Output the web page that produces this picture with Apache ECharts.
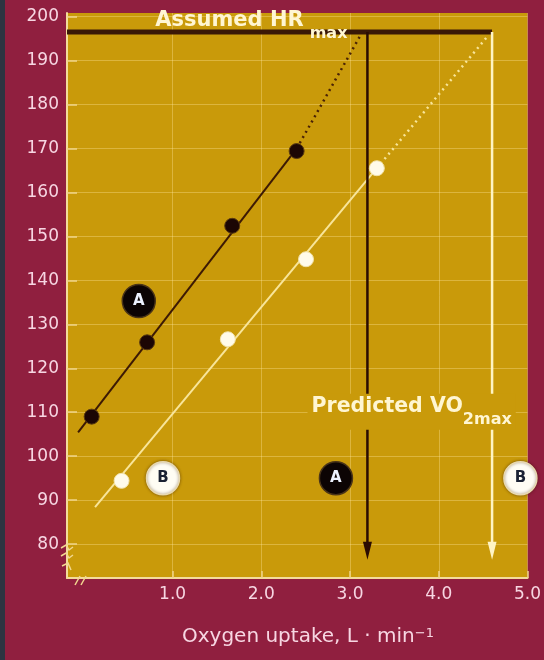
<!DOCTYPE html>
<html><head><meta charset="utf-8">
<script src="https://cdn.jsdelivr.net/npm/echarts@6/dist/echarts.min.js"></script>
<style>html,body{margin:0;padding:0;background:#901f3f;} #c{width:544px;height:660px;}</style>
</head><body><div id="c"></div>
<script>
// ---- data ----
const yTicks = [80,90,100,110,120,130,140,150,160,170,180,190,200];
const xTicks = [1,2,3,4,5];
const xRange = [-0.19, 5.0];
const yRange = [72.3, 200.8];
const pointsA = [[0.088,109.0],[0.713,125.9],[1.672,152.4],[2.398,169.4]];
const pointsB = [[0.425,94.4],[1.623,126.6],[2.504,144.8],[3.302,165.5]];
const fitASolid = [[-0.065,105.4],[2.40,170.0]];
const fitADotted = [[2.40,170.0],[3.125,196.0]];
const fitBSolid = [[0.126,88.4],[3.302,165.5]];
const fitBDotted = [[3.302,165.5],[4.563,195.8]];
const hrMax = 196.5;
const hrMaxSpan = [-0.19, 4.60];
const predictedA = 3.196;
const predictedB = 4.601;
const arrowEnd = 78.5;
const badgesA = [[0.619,135.3],[2.841,95.0]];
const badgesB = [[0.892,95.0],[4.92,95.0]];
const labelHR = [0.799,197.9];
const labelVO = [2.515,110.1];

const FONT = 'DejaVu Sans';
const GOLD = '#c99a0a';
const CREAM = '#fff6d2';
const PINK = '#f7d6e2';

const chart = echarts.init(document.getElementById('c'), null, {renderer:'canvas'});

function arrowSeries(x, color){
  return {
    type:'line', z:4, silent:true,
    lineStyle:{color:color, width:2.5},
    itemStyle:{color:color, opacity:1},
    data:[
      {value:[x,hrMax], symbol:'none'},
      {value:[x,arrowEnd], symbol:'triangle', symbolSize:[9,18], symbolRotate:180}
    ]
  };
}

const option = {
  backgroundColor:'#901f3f',
  animation:false,
  title:{
    text:'Oxygen uptake, L · min{s|−1}',
    left:177, top:622,
    textStyle:{
      fontFamily:FONT, fontSize:20, fontWeight:'normal', color:PINK,
      rich:{ s:{fontFamily:FONT, fontSize:13, color:PINK, lineHeight:10, verticalAlign:'top'} }
    }
  },
  grid:{left:67, right:15, top:13, bottom:82, show:true, backgroundColor:GOLD, borderWidth:0},
  xAxis:{
    type:'value', min:xRange[0], max:xRange[1],
    axisLine:{show:true, onZero:false, lineStyle:{color:'#f3dc9a', width:2}},
    axisTick:{show:true, inside:true, length:7, customValues:xTicks, lineStyle:{color:'#f0d58a', width:1.5}},
    axisLabel:{customValues:xTicks, formatter:v=>v.toFixed(1), fontFamily:FONT, fontSize:17, color:PINK, margin:8},
    splitLine:{show:true, lineStyle:{color:'rgba(255,232,160,0.35)', width:1}}
  },
  yAxis:{
    type:'value', min:yRange[0], max:yRange[1],
    axisLine:{show:true, onZero:false, lineStyle:{color:'#f3dc9a', width:2}},
    axisTick:{show:true, inside:true, length:10, customValues:yTicks, lineStyle:{color:'#f0d58a', width:1.5}},
    axisLabel:{customValues:yTicks, fontFamily:FONT, fontSize:17, color:PINK, margin:8},
    splitLine:{show:true, lineStyle:{color:'rgba(255,232,160,0.35)', width:1}}
  },
  series:[
    {type:'line', z:3, silent:true, symbol:'none', data:fitASolid, lineStyle:{color:'#3d1a04', width:2}},
    {type:'line', z:3, silent:true, symbol:'none', data:fitADotted, lineStyle:{color:'#4a2206', width:2.5, type:[2,4]}},
    {type:'line', z:3, silent:true, symbol:'none', data:fitBSolid, lineStyle:{color:'#f8e59a', width:2}},
    {type:'line', z:3, silent:true, symbol:'none', data:fitBDotted, lineStyle:{color:'#f8e59a', width:2.5, type:[2,4]}},
    {type:'line', z:4, silent:true, symbol:'none', data:[[hrMaxSpan[0],hrMax],[hrMaxSpan[1],hrMax]], lineStyle:{color:'#3a1806', width:5}},
    arrowSeries(predictedA, '#2a0c02'),
    arrowSeries(predictedB, '#fff4c4'),
    {type:'scatter', z:6, silent:true, symbolSize:15, data:pointsA,
      itemStyle:{color:'#1c0604', borderColor:'#5a3a10', borderWidth:1, opacity:1}},
    {type:'scatter', z:6, silent:true, symbolSize:15, data:pointsB,
      itemStyle:{color:'#fffbea', borderColor:'#f2e2a8', borderWidth:1, opacity:1}},
    {type:'scatter', z:7, silent:true, symbolSize:33, data:badgesA,
      itemStyle:{color:'#0c0404', borderColor:'#4a3418', borderWidth:1.5, opacity:1},
      label:{show:true, position:'inside', formatter:'A', fontFamily:FONT, fontWeight:'bold', fontSize:15, color:'#eef2ff'}},
    {type:'scatter', z:7, silent:true, symbolSize:33, data:badgesB,
      itemStyle:{color:'#fffdf4', borderColor:'#e8d9b0', borderWidth:1.5, opacity:1, shadowBlur:3, shadowColor:'rgba(60,30,0,0.5)'},
      label:{show:true, position:'inside', formatter:'B', fontFamily:FONT, fontWeight:'bold', fontSize:15, color:'#1b2233'}},
    {type:'scatter', z:10, silent:true, symbolSize:1, itemStyle:{color:'rgba(0,0,0,0)', opacity:1},
      data:[labelHR],
      label:{show:true, position:'right', distance:0,
        formatter:'{a|Assumed HR}{s|max}',
        rich:{
          a:{fontFamily:FONT, fontWeight:'bold', fontSize:21, color:CREAM, lineHeight:26, verticalAlign:'top'},
          s:{fontFamily:FONT, fontWeight:'bold', fontSize:16, color:CREAM, padding:[16,0,0,6], verticalAlign:'top'}
        }}},
    {type:'scatter', z:10, silent:true, symbolSize:1, itemStyle:{color:'rgba(0,0,0,0)', opacity:1},
      data:[labelVO],
      label:{show:true, position:'right', distance:0, backgroundColor:GOLD, padding:[2,4,2,4],
        formatter:'{a|Predicted VO}{s|2max}',
        rich:{
          a:{fontFamily:FONT, fontWeight:'bold', fontSize:20.5, color:CREAM, lineHeight:26, verticalAlign:'top'},
          s:{fontFamily:FONT, fontWeight:'bold', fontSize:16, color:CREAM, padding:[16,0,0,0], verticalAlign:'top'}
        }}}
  ]
};
chart.setOption(option);

// decorations: left dark strip and axis-break marks
const corner = chart.convertToPixel({gridIndex:0}, [xRange[0], yRange[0]]);
const cx = corner[0], cy = corner[1];
const breakStyle = {stroke:'#f2d890', lineWidth:1.5};
chart.setOption({
  graphic:[
    {type:'rect', shape:{x:0,y:0,width:5,height:660}, style:{fill:'#2d3441'}, z:100},
    {type:'polyline', shape:{points:[[cx-6,cy-30],[cx-1,cy-33],[cx+2,cy-28],[cx+6,cy-31]]}, style:breakStyle, z:100},
    {type:'polyline', shape:{points:[[cx-6,cy-22],[cx-1,cy-25],[cx+2,cy-20],[cx+6,cy-23]]}, style:breakStyle, z:100},
    {type:'polyline', shape:{points:[[cx-5,cy-12],[cx+1,cy-15],[cx+4,cy-8]]}, style:breakStyle, z:100},
    {type:'line', shape:{x1:cx+8,y1:cy+7,x2:cx+13,y2:cy-2}, style:breakStyle, z:100},
    {type:'line', shape:{x1:cx+14,y1:cy+7,x2:cx+19,y2:cy-2}, style:breakStyle, z:100}
  ]
});
</script></body></html>
